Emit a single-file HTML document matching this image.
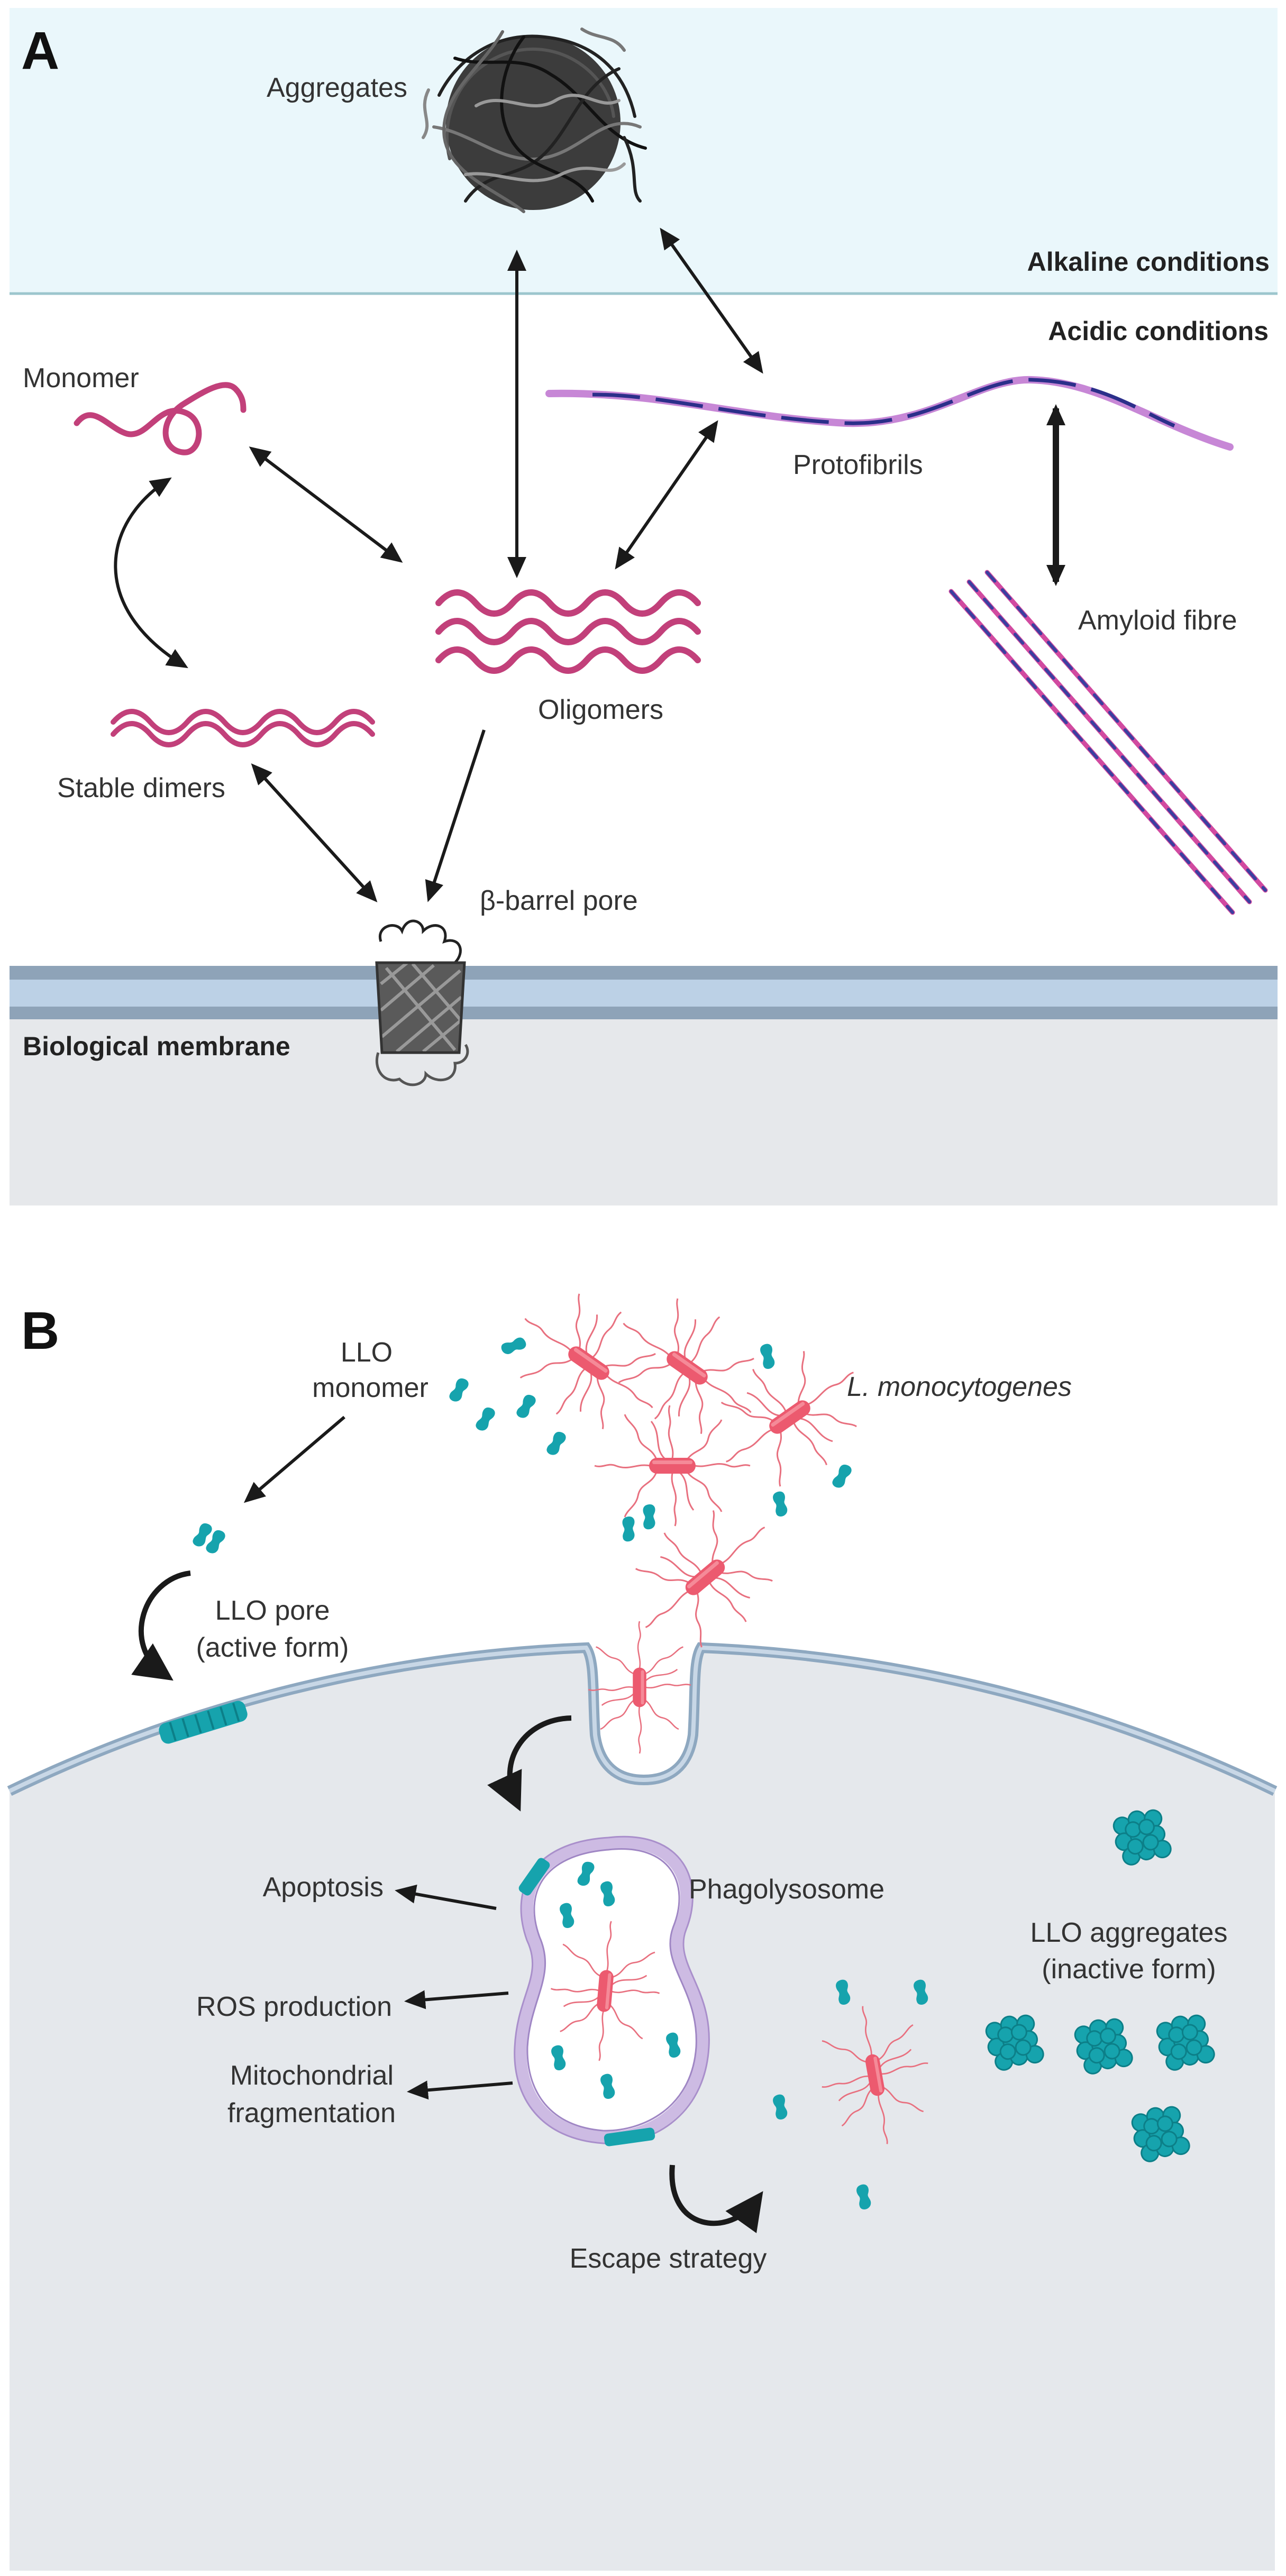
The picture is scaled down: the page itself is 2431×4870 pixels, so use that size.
<!DOCTYPE html>
<html><head><meta charset="utf-8"><style>
html,body{margin:0;padding:0;background:#fff}
svg{display:block}
text{font-family:"Liberation Sans",sans-serif;fill:#333;font-size:52px}
.b{font-weight:bold;fill:#222;font-size:50px}
</style></head><body>
<svg width="2431" height="4870" viewBox="0 0 2431 4870" xmlns="http://www.w3.org/2000/svg">
<defs>
<marker id="h" viewBox="0 0 10 10" refX="8" refY="5" markerWidth="40" markerHeight="40" markerUnits="userSpaceOnUse" orient="auto-start-reverse"><path d="M0,0.5 L10,5 L0,9.5 z" fill="#1a1a1a"/></marker>
<marker id="H" viewBox="0 0 10 10" refX="7" refY="5" markerWidth="72" markerHeight="72" markerUnits="userSpaceOnUse" orient="auto"><path d="M0,0 L10,5 L0,10 z" fill="#1a1a1a"/></marker>
<g id="bac">
 <g fill="none" stroke="#e8707f" stroke-width="3">
  <path d="M-30,-12 c-10,-25 -30,-20 -35,-45 c-4,-20 -20,-25 -25,-40"/>
  <path d="M0,-14 c5,-25 -12,-35 -5,-60 c4,-15 -5,-25 0,-40"/>
  <path d="M28,-12 c15,-20 35,-15 40,-40 c4,-18 20,-22 25,-35"/>
  <path d="M-42,0 c-25,-5 -40,10 -65,0 c-15,-6 -25,5 -40,0"/>
  <path d="M42,0 c25,5 40,-10 65,0 c15,6 25,-5 40,0"/>
  <path d="M-30,12 c-10,25 -30,20 -35,45 c-4,20 -20,25 -25,40"/>
  <path d="M0,14 c-5,25 12,35 5,60 c-4,15 5,25 0,40"/>
  <path d="M28,12 c15,20 35,15 40,40 c4,18 20,22 25,35"/>
  <path d="M-15,-14 c-20,-20 -5,-45 -25,-70"/>
  <path d="M15,14 c20,20 5,45 25,70"/>
 </g>
 <rect x="-44" y="-15" width="88" height="30" rx="15" fill="#ec5a6f"/>
 <rect x="-38" y="-10" width="76" height="7" rx="3" fill="#f58a98"/>
</g>
<path id="bean" d="M2,-24 c14,-2 18,10 10,20 c-5,6 4,13 -3,22 c-7,8 -21,4 -20,-5 c0,-9 8,-11 5,-19 c-3,-9 0,-17 8,-18 z" fill="#16a3ad"/>
<g id="agg">
 <g fill="#16a3ad" stroke="#0c7f88" stroke-width="3">
  <circle cx="-30" cy="-30" r="16"/><circle cx="0" cy="-34" r="16"/><circle cx="30" cy="-28" r="16"/>
  <circle cx="-34" cy="0" r="16"/><circle cx="-4" cy="-4" r="16"/><circle cx="28" cy="2" r="16"/>
  <circle cx="-28" cy="30" r="16"/><circle cx="2" cy="28" r="16"/><circle cx="32" cy="32" r="16"/>
  <circle cx="-12" cy="-18" r="14"/><circle cx="14" cy="14" r="14"/><circle cx="14" cy="-16" r="14"/><circle cx="-16" cy="14" r="14"/>
 </g>
</g>
</defs>

<rect x="18" y="15" width="2397" height="540" fill="#eaf7fb"/>
<line x1="18" y1="555" x2="2415" y2="555" stroke="#9cc6cd" stroke-width="5"/>
<rect x="18" y="1927" width="2397" height="352" fill="#e6e8eb"/>
<rect x="18" y="1826" width="2397" height="26" fill="#8ea3b8"/>
<rect x="18" y="1852" width="2397" height="51" fill="#bcd1e6"/>
<rect x="18" y="1903" width="2397" height="24" fill="#8ea3b8"/>

<text x="40" y="130" class="b" style="font-size:100px;fill:#111">A</text>
<text x="504" y="183">Aggregates</text>
<text x="2400" y="512" class="b" text-anchor="end">Alkaline conditions</text>
<text x="2398" y="643" class="b" text-anchor="end">Acidic conditions</text>
<text x="43" y="732">Monomer</text>
<text x="1499" y="896">Protofibrils</text>
<text x="2038" y="1190">Amyloid fibre</text>
<text x="1017" y="1359">Oligomers</text>
<text x="108" y="1507">Stable dimers</text>
<text x="907" y="1720">β-barrel pore</text>
<text x="43" y="1995" class="b">Biological membrane</text>

<circle cx="1008" cy="232" r="165" fill="#3c3c3c"/>
<g fill="none" stroke-width="6" stroke-linecap="round">
 <path d="M830,180 c40,-80 120,-120 200,-110 c90,10 150,60 170,150" stroke="#222"/>
 <path d="M850,300 c-20,-80 20,-170 110,-200 c100,-30 190,40 200,120" stroke="#555"/>
 <path d="M860,110 c60,20 120,-10 180,30 c70,40 100,120 180,140" stroke="#111"/>
 <path d="M820,240 c70,10 130,70 200,60 c80,-10 120,-90 190,-60" stroke="#777"/>
 <path d="M880,380 c40,-60 100,-40 150,-90 c50,-50 70,-130 140,-160" stroke="#222"/>
 <path d="M950,60 c-40,70 -120,120 -110,200 c10,70 100,100 150,140" stroke="#666"/>
 <path d="M1120,380 c-30,-60 -110,-50 -150,-110 c-40,-60 -20,-150 20,-200" stroke="#111"/>
 <path d="M1180,260 c30,60 10,100 30,120" stroke="#222"/>
 <path d="M810,170 c-20,40 10,60 -10,90" stroke="#888"/>
 <path d="M1100,55 c30,20 60,10 80,40" stroke="#777"/>
 <path d="M900,200 c50,-30 100,20 150,-10 c50,-30 80,20 120,0" stroke="#999"/>
 <path d="M880,330 c60,-10 120,30 180,0 c60,-30 90,10 120,-20" stroke="#999"/>
</g>

<path d="M145,800 c30,-40 60,10 95,20 c40,10 60,-60 110,-40 c40,15 30,80 -5,75 c-40,-5 -45,-60 0,-90 c40,-25 80,-50 100,-30 c15,15 15,30 15,40" fill="none" stroke="#c2407a" stroke-width="11" stroke-linecap="round"/>

<g fill="none" stroke="#c2407a" stroke-width="12" stroke-linecap="round">
 <path d="M829,1140 q35,-40 70,0 t70,0 t70,0 t70,0 t70,0 t70,0 t70,0"/>
 <path d="M829,1194 q35,-40 70,0 t70,0 t70,0 t70,0 t70,0 t70,0 t70,0"/>
 <path d="M829,1248 q35,-40 70,0 t70,0 t70,0 t70,0 t70,0 t70,0 t70,0"/>
</g>
<g fill="none" stroke="#c2407a" stroke-width="10" stroke-linecap="round">
 <path d="M214,1365 q35,-40 70,0 t70,0 t70,0 t70,0 t70,0 t70,0 t70,0"/>
 <path d="M214,1388 q35,-40 70,0 t70,0 t70,0 t70,0 t70,0 t70,0 t70,0"/>
</g>

<path d="M1038,744 C1250,740 1400,790 1600,800 C1760,805 1850,715 1950,718 C2080,722 2180,800 2325,845" fill="none" stroke="#b45fc8" stroke-width="14" stroke-linecap="round" opacity="0.75"/>
<path d="M1120,746 C1250,745 1400,790 1600,800 C1760,805 1850,715 1950,718 C2080,722 2150,775 2220,805" fill="none" stroke="#2b2f8a" stroke-width="7" stroke-dasharray="90 30"/>

<g fill="none" stroke-linecap="round">
 <g stroke="#d14aa0" stroke-width="9">
  <line x1="1798" y1="1118" x2="2330" y2="1725"/>
  <line x1="1832" y1="1100" x2="2362" y2="1705"/>
  <line x1="1866" y1="1082" x2="2392" y2="1683"/>
 </g>
 <g stroke="#3b3fa0" stroke-width="6" stroke-dasharray="22 22">
  <line x1="1798" y1="1118" x2="2330" y2="1725"/>
  <line x1="1832" y1="1100" x2="2362" y2="1705"/>
  <line x1="1866" y1="1082" x2="2392" y2="1683"/>
 </g>
</g>

<g>
 <path d="M720,1780 c-10,-30 30,-40 40,-20 c10,-30 40,-20 40,0 c20,-20 50,-10 40,20 c30,-10 40,20 20,40" fill="none" stroke="#222" stroke-width="5"/>
 <path d="M715,1990 c-10,30 10,60 40,50 c20,20 50,10 50,-10 c20,20 60,15 55,-20 c20,0 30,-20 20,-35" fill="none" stroke="#555" stroke-width="5"/>
 <path d="M712,1820 L878,1820 L868,1990 L722,1990 Z" fill="#5a5a5a"/>
 <g stroke="#999" stroke-width="6">
  <line x1="720" y1="1860" x2="770" y2="1820"/><line x1="720" y1="1910" x2="820" y2="1825"/>
  <line x1="722" y1="1960" x2="870" y2="1835"/><line x1="750" y1="1988" x2="872" y2="1885"/>
  <line x1="800" y1="1988" x2="870" y2="1930"/>
  <line x1="730" y1="1830" x2="860" y2="1985"/><line x1="780" y1="1822" x2="872" y2="1930"/>
 </g>
 <path d="M712,1820 L878,1820 L868,1990 L722,1990 Z" fill="none" stroke="#333" stroke-width="5"/>
</g>

<g stroke="#1a1a1a" stroke-width="6" fill="none" marker-start="url(#h)" marker-end="url(#h)">
 <line x1="977" y1="480" x2="977" y2="1085"/>
 <line x1="1252" y1="437" x2="1438" y2="700"/>
 <line x1="477" y1="849" x2="755" y2="1059"/>
 <line x1="1353" y1="801" x2="1167" y2="1070"/>
 <line x1="1996" y1="772" x2="1996" y2="1100" stroke-width="12"/>
 <path d="M318,907 C190,990 170,1150 349,1259"/>
 <line x1="480" y1="1449" x2="708" y2="1700"/>
</g>
<line x1="915" y1="1380" x2="811" y2="1698" stroke="#1a1a1a" stroke-width="6" marker-end="url(#h)"/>

<text x="40" y="2550" class="b" style="font-size:100px;fill:#111">B</text>
<path d="M18,3386 A2756,2756 0 0 1 1108,3115 C1125,3140 1120,3200 1125,3280 C1135,3350 1180,3365 1217,3365 C1255,3365 1300,3350 1310,3280 C1315,3200 1310,3140 1325,3115 A2756,2756 0 0 1 2410,3386 L2410,4860 L18,4860 Z" fill="#e5e8ec"/>
<path d="M18,3386 A2756,2756 0 0 1 1108,3115 C1125,3140 1120,3200 1125,3280 C1135,3350 1180,3365 1217,3365 C1255,3365 1300,3350 1310,3280 C1315,3200 1310,3140 1325,3115 A2756,2756 0 0 1 2410,3386" fill="none" stroke="#8ea8c0" stroke-width="20"/>
<path d="M18,3386 A2756,2756 0 0 1 1108,3115 C1125,3140 1120,3200 1125,3280 C1135,3350 1180,3365 1217,3365 C1255,3365 1300,3350 1310,3280 C1315,3200 1310,3140 1325,3115 A2756,2756 0 0 1 2410,3386" fill="none" stroke="#c8d7e6" stroke-width="8"/>

<g transform="translate(384,3256) rotate(-17)">
 <rect x="-85" y="-20" width="170" height="40" rx="14" fill="#16a3ad"/>
 <g stroke="#0c7f88" stroke-width="4"><line x1="-60" y1="-18" x2="-60" y2="18"/><line x1="-35" y1="-18" x2="-35" y2="18"/><line x1="-10" y1="-18" x2="-10" y2="18"/><line x1="15" y1="-18" x2="15" y2="18"/><line x1="40" y1="-18" x2="40" y2="18"/><line x1="65" y1="-18" x2="65" y2="18"/></g>
</g>

<path d="M1150,3485 C1280,3470 1320,3560 1285,3645 C1258,3715 1335,3760 1328,3870 C1320,3995 1220,4045 1140,4040 C1030,4032 980,3960 985,3870 C990,3775 1040,3735 1008,3665 C975,3575 1015,3495 1150,3485 Z" fill="#fff" stroke="#cdbbe3" stroke-width="22"/>
<path d="M1150,3497 C1268,3484 1305,3562 1273,3642 C1245,3715 1322,3760 1316,3870 C1308,3985 1215,4030 1140,4028 C1040,4020 995,3955 997,3870 C1002,3780 1052,3735 1020,3662 C990,3580 1025,3507 1150,3497 Z" fill="none" stroke="#9f86c4" stroke-width="3"/>
<path d="M1150,3474 C1292,3458 1333,3558 1297,3648 C1272,3712 1347,3758 1340,3870 C1332,4005 1225,4058 1140,4052 C1022,4044 968,3965 973,3870 C978,3770 1028,3735 996,3668 C962,3572 1005,3483 1150,3474 Z" fill="none" stroke="#a98fcb" stroke-width="3"/>
<g transform="translate(1010,3548) rotate(-55)"><rect x="-38" y="-13" width="76" height="26" rx="8" fill="#16a3ad"/></g>
<g transform="translate(1190,4040) rotate(-8)"><rect x="-48" y="-12" width="96" height="24" rx="8" fill="#16a3ad"/></g>

<use href="#bac" transform="translate(1113,2577) rotate(35)"/>
<use href="#bac" transform="translate(1299,2586) rotate(35)"/>
<use href="#bac" transform="translate(1493,2679) rotate(-35)"/>
<use href="#bac" transform="translate(1271,2771)"/>
<use href="#bac" transform="translate(1333,2982) rotate(-40)"/>
<use href="#bac" transform="translate(1209,3190) rotate(90) scale(0.85)"/>
<use href="#bac" transform="translate(1144,3764) rotate(95) scale(0.9)"/>
<use href="#bac" transform="translate(1654,3923) rotate(80) scale(0.9)"/>

<use href="#bean" transform="translate(969,2543) rotate(60)"/>
<use href="#bean" transform="translate(865,2628) rotate(20)"/>
<use href="#bean" transform="translate(915,2683) rotate(20)"/>
<use href="#bean" transform="translate(992,2659) rotate(20)"/>
<use href="#bean" transform="translate(1049,2729) rotate(20)"/>
<use href="#bean" transform="translate(1449,2566) rotate(-20)"/>
<use href="#bean" transform="translate(1589,2791) rotate(20)"/>
<use href="#bean" transform="translate(1473,2845) rotate(-20)"/>
<use href="#bean" transform="translate(1186,2892) rotate(-10)"/>
<use href="#bean" transform="translate(1225,2869) rotate(-10)"/>
<use href="#bean" transform="translate(380,2902) rotate(20)"/>
<use href="#bean" transform="translate(405,2915) rotate(20)"/>
<use href="#bean" transform="translate(1105,3543) rotate(10)"/>
<use href="#bean" transform="translate(1147,3582) rotate(-20)"/>
<use href="#bean" transform="translate(1070,3623) rotate(-20)"/>
<use href="#bean" transform="translate(1054,3892) rotate(-20)"/>
<use href="#bean" transform="translate(1147,3946) rotate(-20)"/>
<use href="#bean" transform="translate(1271,3868) rotate(-20)"/>
<use href="#bean" transform="translate(1592,3768) rotate(-20)"/>
<use href="#bean" transform="translate(1739,3768) rotate(-20)"/>
<use href="#bean" transform="translate(1473,3985) rotate(-20)"/>
<use href="#bean" transform="translate(1631,4155) rotate(-20)"/>

<use href="#agg" transform="translate(2158,3473) rotate(-15)"/>
<use href="#agg" transform="translate(1917,3861) rotate(-15)"/>
<use href="#agg" transform="translate(2085,3868) rotate(-15)"/>
<use href="#agg" transform="translate(2240,3861) rotate(-15)"/>
<use href="#agg" transform="translate(2193,4034) rotate(-15)"/>

<g stroke="#1a1a1a" stroke-width="6" fill="none" marker-end="url(#h)">
 <line x1="651" y1="2679" x2="467" y2="2836"/>
 <line x1="938" y1="3608" x2="754" y2="3575"/>
 <line x1="961" y1="3768" x2="772" y2="3783"/>
 <line x1="969" y1="3938" x2="777" y2="3954"/>
</g>
<g stroke="#1a1a1a" stroke-width="10" fill="none" marker-end="url(#H)">
 <path d="M360,2974 C270,2985 230,3110 310,3165"/>
 <path d="M1080,3248 C990,3250 940,3330 975,3405"/>
 <path d="M1271,4093 C1260,4220 1380,4230 1430,4160"/>
</g>

<text x="693" y="2574" text-anchor="middle">LLO</text>
<text x="700" y="2641" text-anchor="middle">monomer</text>
<text x="1601" y="2639" style="font-style:italic">L. monocytogenes</text>
<text x="515" y="3062" text-anchor="middle">LLO pore</text>
<text x="515" y="3132" text-anchor="middle">(active form)</text>
<text x="1302" y="3589">Phagolysosome</text>
<text x="725" y="3585" text-anchor="end">Apoptosis</text>
<text x="741" y="3811" text-anchor="end">ROS production</text>
<text x="744" y="3941" text-anchor="end">Mitochondrial</text>
<text x="748" y="4012" text-anchor="end">fragmentation</text>
<text x="1263" y="4287" text-anchor="middle">Escape strategy</text>
<text x="2134" y="3671" text-anchor="middle">LLO aggregates</text>
<text x="2134" y="3740" text-anchor="middle">(inactive form)</text>
</svg>
</body></html>
